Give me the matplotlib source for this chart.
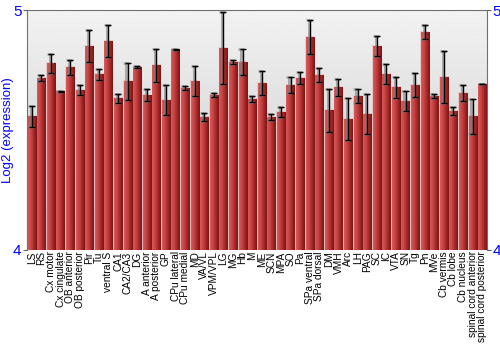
import numpy as np
import matplotlib
matplotlib.use("Agg")
import matplotlib.pyplot as plt
from matplotlib.colors import LinearSegmentedColormap

plt.rcParams["font.family"] = ["Liberation Sans", "DejaVu Sans"]

regions = ["LS", "RS", "Cx motor", "Cx cingulate", "OB anterior", "OB posterior",
           "Pir", "Tu", "ventral S", "CA1", "CA2/CA3", "DG", "A anterior",
           "A posterior", "GP", "CPu lateral", "CPu medial", "MD", "VA/VL",
           "VPM/VPL", "LG", "MG", "Hb", "M", "ME", "SCN", "MPA", "SO", "Pa",
           "SPa ventral", "SPa dorsal", "DM", "VMH", "Arc", "LH", "PAG", "SC",
           "IC", "VTA", "SN", "Tg", "Pn", "MVe", "Cb vermis", "Cb lobe",
           "Cb nucleus", "spinal cord anterior", "spinal cord posterior"]

expression = [4.558, 4.717, 4.779, 4.662, 4.762, 4.667, 4.850, 4.733, 4.871,
              4.633, 4.704, 4.763, 4.646, 4.771, 4.625, 4.836, 4.675, 4.704,
              4.554, 4.646, 4.842, 4.783, 4.783, 4.629, 4.696, 4.554, 4.575,
              4.688, 4.717, 4.888, 4.729, 4.583, 4.679, 4.546, 4.642, 4.567,
              4.850, 4.733, 4.679, 4.621, 4.688, 4.908, 4.642, 4.721, 4.579,
              4.654, 4.558, 4.692]

errors = [0.044, 0.012, 0.040, 0.002, 0.031, 0.019, 0.067, 0.023, 0.065,
          0.019, 0.077, 0.006, 0.027, 0.069, 0.063, 0.002, 0.010, 0.063,
          0.017, 0.008, 0.150, 0.008, 0.054, 0.012, 0.050, 0.012, 0.021,
          0.035, 0.023, 0.069, 0.029, 0.090, 0.035, 0.088, 0.029, 0.085,
          0.042, 0.042, 0.044, 0.042, 0.050, 0.029, 0.008, 0.108, 0.015,
          0.035, 0.073, 0.002]

ymin, ymax = 4, 5
blue = "#0000ff"

fig = plt.figure(figsize=(5, 3.5), dpi=100)
ax = fig.add_axes([0.054, 0.286, 0.92, 0.685])

x = np.arange(len(regions))
ax.set_xlim(-0.5, len(regions) - 0.5)
ax.set_ylim(ymin, ymax)

# grey gradient background
bg = np.linspace(0.78, 0.95, 256).reshape(-1, 1)
ax.imshow(bg, cmap="gray", vmin=0, vmax=1, aspect="auto",
          extent=[-0.5, len(regions) - 0.5, ymin, ymax], origin="lower", zorder=0)

# horizontal gradient inside each bar
bar_cmap = LinearSegmentedColormap.from_list("bar", ["#d65a5a", "#c94444", "#a52828", "#7a1414"])
grad = np.linspace(0, 1, 64).reshape(1, -1)
w = 0.86
for xi, v in zip(x, expression):
    ax.add_patch(plt.Rectangle((xi - w / 2 - 0.06, ymin), w + 0.12, v - ymin + 0.004,
                               facecolor="#e8b0b0", alpha=0.5, lw=0, zorder=1))
    ax.imshow(grad, cmap=bar_cmap, aspect="auto",
              extent=[xi - w / 2, xi + w / 2, ymin, v], zorder=2)

# error bars with a soft shadow
ax.errorbar(x - 0.12, expression, yerr=errors, fmt="none", ecolor="#808080",
            elinewidth=2.2, capsize=2.5, capthick=2, alpha=0.6, zorder=3)
ax.errorbar(x, expression, yerr=errors, fmt="none", ecolor="black",
            elinewidth=1, capsize=2.2, capthick=1, zorder=4)

ax.set_xticks(x)
ax.set_xticklabels(regions, rotation=90, fontsize=7.3)
ax.tick_params(axis="x", length=0, pad=1)

ax.set_yticks([4, 5])
ax.tick_params(axis="y", which="both", direction="out", length=3, colors="#606060",
               labelcolor=blue, labelsize=11, left=True, right=True,
               labelleft=True, labelright=True, pad=1)
ax.set_ylabel("Log2 (expression)", color=blue, fontsize=9.5, va="center")
ax.yaxis.set_label_coords(-0.041, 0.5)

for side in ["left", "right", "top"]:
    ax.spines[side].set_color("#707070")
ax.spines["bottom"].set_visible(False)

fig.savefig("out.png", dpi=100)
